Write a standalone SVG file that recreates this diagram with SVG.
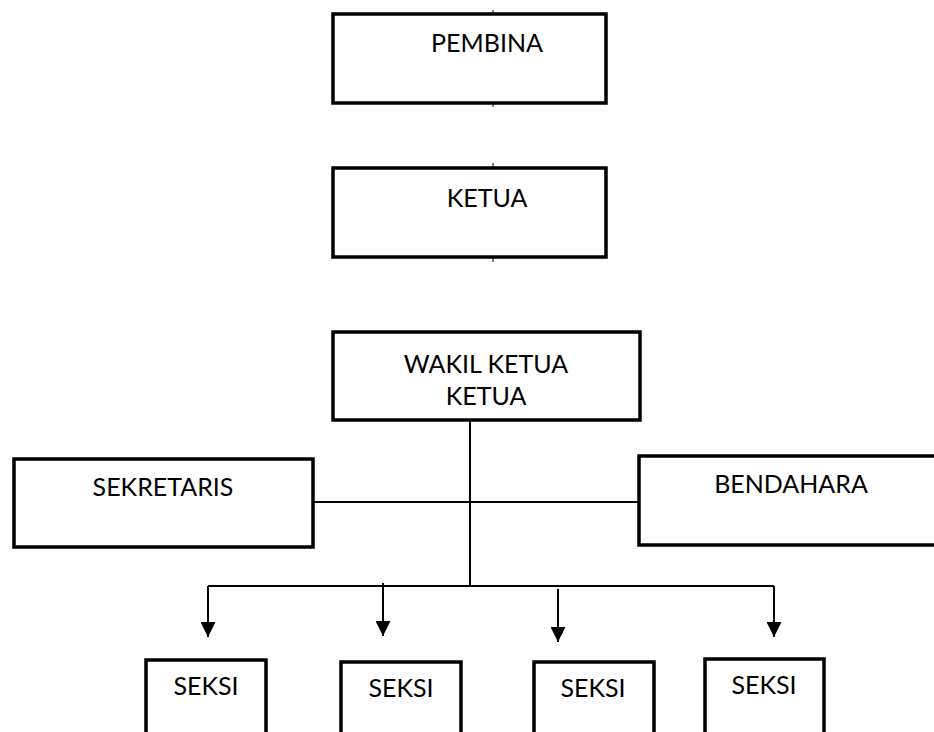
<svg xmlns="http://www.w3.org/2000/svg" width="934" height="732" viewBox="0 0 934 732">
<style>
.box{fill:#fff;stroke:#000;stroke-width:3.5}
.lbl{font-family:Lato,"Liberation Sans",sans-serif;font-size:25px;fill:#000;text-anchor:middle}
.ln{stroke:#000;stroke-width:2;fill:none}
.tick{stroke:#000;stroke-width:1;fill:none}
</style>
<defs>
<marker id="ah" viewBox="0 0 10 10" refX="10" refY="5" markerWidth="15" markerHeight="15" markerUnits="userSpaceOnUse" orient="auto">
<path d="M0,0 L10,5 L0,10 Z" fill="#000"/>
</marker>
</defs>
<g id="connectors">
<line class="tick" x1="493" y1="10" x2="493" y2="14"/>
<line class="tick" x1="493" y1="103" x2="493" y2="107"/>
<line class="tick" x1="493" y1="163" x2="493" y2="168"/>
<line class="tick" x1="493" y1="257" x2="493" y2="262"/>
<line class="ln" x1="470" y1="420" x2="470" y2="586"/>
<line class="ln" x1="313" y1="502" x2="638" y2="502"/>
<line class="ln" x1="208" y1="586" x2="774" y2="586"/>
<line class="ln" x1="208" y1="586" x2="208" y2="637" marker-end="url(#ah)"/>
<line class="ln" x1="383" y1="583" x2="383" y2="636" marker-end="url(#ah)"/>
<line class="ln" x1="558" y1="589" x2="558" y2="642" marker-end="url(#ah)"/>
<line class="ln" x1="774" y1="586" x2="774" y2="637" marker-end="url(#ah)"/>
</g>
<g id="pembina">
<rect class="box" x="333" y="14" width="273" height="89"/>
<text class="lbl" x="487" y="52">PEMBINA</text>
</g>
<g id="ketua">
<rect class="box" x="333" y="168" width="273" height="89"/>
<text class="lbl" x="487" y="207">KETUA</text>
</g>
<g id="wakil">
<rect class="box" x="333" y="332" width="307" height="88"/>
<text class="lbl" x="486" y="373">WAKIL KETUA</text>
<text class="lbl" x="486" y="405">KETUA</text>
</g>
<g id="sekretaris">
<rect class="box" x="14" y="459" width="299" height="88"/>
<text class="lbl" x="163" y="496">SEKRETARIS</text>
</g>
<g id="bendahara">
<rect class="box" x="639" y="456" width="300" height="89"/>
<text class="lbl" x="791" y="493">BENDAHARA</text>
</g>
<g id="seksi1">
<rect class="box" x="146" y="660" width="120" height="90"/>
<text class="lbl" x="206" y="695">SEKSI</text>
</g>
<g id="seksi2">
<rect class="box" x="341" y="662" width="120" height="90"/>
<text class="lbl" x="401" y="697">SEKSI</text>
</g>
<g id="seksi3">
<rect class="box" x="534" y="662" width="120" height="90"/>
<text class="lbl" x="593" y="697">SEKSI</text>
</g>
<g id="seksi4">
<rect class="box" x="705" y="659" width="119" height="90"/>
<text class="lbl" x="764" y="694">SEKSI</text>
</g>
</svg>
